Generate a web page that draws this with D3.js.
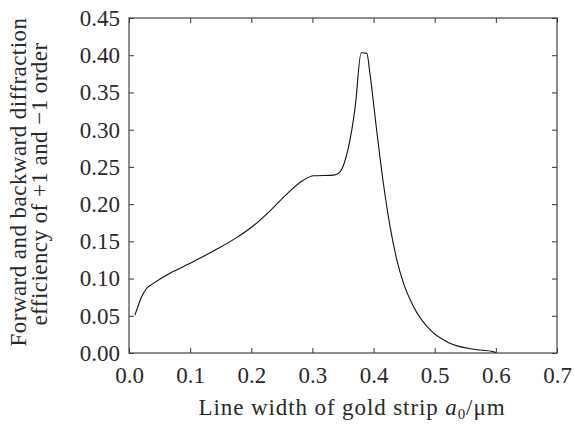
<!DOCTYPE html>
<html><head><meta charset="utf-8">
<script src="https://cdn.jsdelivr.net/npm/d3@7"></script>
<style>body{margin:0;background:#fff}svg{display:block}</style>
</head><body>
<script>
const xValues = [0.0098,0.0207,0.029,0.040,0.0617,0.100,0.138,0.176,0.2035,0.2308,0.258,0.285,0.302,0.3345,0.343,0.351,0.358,0.370,0.3797,0.389,0.394,0.405,0.416,0.427,0.438,0.449,0.4654,0.4926,0.525,0.5635,0.596,0.600];
const yValues = [0.051,0.0757,0.087,0.0935,0.1048,0.1205,0.137,0.155,0.171,0.191,0.2135,0.232,0.238,0.239,0.2415,0.2526,0.2727,0.331,0.4034,0.4025,0.3757,0.2996,0.228,0.1697,0.125,0.0935,0.0622,0.0309,0.013,0.005,0.0018,0.0005];
const xTicks = [0,0.1,0.2,0.3,0.4,0.5,0.6,0.7];
const yTicks = [0,0.05,0.10,0.15,0.20,0.25,0.30,0.35,0.40,0.45];

const FONT = "Liberation Serif";
const TXT = "#2a2a2a";
const W=574,H=424, L=129,R=557,T=18,B=353;
const svg=d3.select("body").append("svg").attr("width",W).attr("height",H);
const x=d3.scaleLinear().domain([0,0.7]).range([L,R]);
const y=d3.scaleLinear().domain([0,0.45]).range([B,T]);

const tk=5;
function styleAxis(sel){
  sel.attr("font-family",FONT).attr("font-size",23);
  sel.select(".domain").remove();
  sel.selectAll(".tick line").attr("stroke","#333");
  sel.selectAll(".tick text").attr("fill",TXT).attr("font-family",FONT);
}
svg.append("g").attr("transform",`translate(0,${B})`).call(d3.axisBottom(x).tickValues(xTicks).tickSizeInner(-tk).tickSizeOuter(0).tickPadding(14).tickFormat(d3.format(".1f"))).call(styleAxis);
svg.append("g").attr("transform",`translate(0,${T})`).call(d3.axisTop(x).tickValues(xTicks).tickSizeInner(-tk).tickSizeOuter(0).tickFormat("")).call(styleAxis);
svg.append("g").attr("transform",`translate(${L},0)`).call(d3.axisLeft(y).tickValues(yTicks).tickSizeInner(-tk).tickSizeOuter(0).tickPadding(9).tickFormat(d3.format(".2f"))).call(styleAxis);
svg.append("g").attr("transform",`translate(${R},0)`).call(d3.axisRight(y).tickValues(yTicks).tickSizeInner(-tk).tickSizeOuter(0).tickFormat("")).call(styleAxis);

svg.append("rect").attr("x",L).attr("y",T).attr("width",R-L).attr("height",B-T).attr("fill","none").attr("stroke","#444").attr("stroke-width",1.2);

const pts=xValues.map((v,i)=>[v,yValues[i]]);
svg.append("path").datum(pts).attr("fill","none").attr("stroke","#111").attr("stroke-width",1.1)
  .attr("d",d3.line().x(d=>x(d[0])).y(d=>y(d[1])).curve(d3.curveMonotoneX));

svg.append("text").attr("x",352).attr("y",415).attr("text-anchor","middle").attr("font-size",23).attr("font-family",FONT).attr("fill",TXT).attr("letter-spacing","0.9px")
  .html('Line width of gold strip <tspan font-style="italic">a</tspan><tspan font-size="15" dy="4">0</tspan><tspan dy="-4">/μm</tspan>');
const yl=svg.append("text").attr("transform",`translate(0,182) rotate(-90)`).attr("text-anchor","middle").attr("font-size",23).attr("font-family",FONT).attr("fill",TXT).attr("letter-spacing","0.45px");
yl.append("tspan").attr("x",0).attr("y",26).text("Forward and backward diffraction");
yl.append("tspan").attr("x",-2).attr("y",47).text("efficiency of +1 and \u22121 order");
</script>
</body></html>
